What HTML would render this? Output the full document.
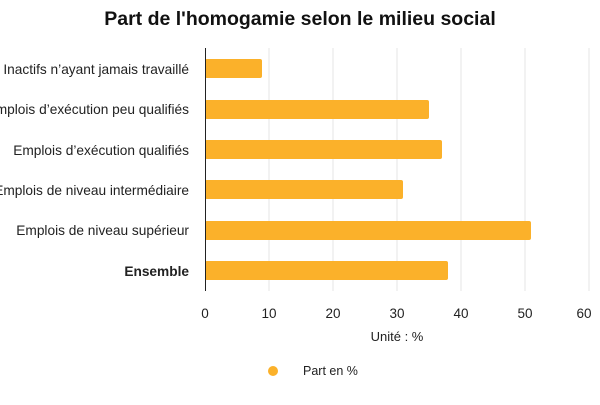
<!DOCTYPE html><html><head><style>body{margin:0;background:#fff;font-family:"Liberation Sans",sans-serif}</style></head><body>
<svg width="600" height="400" xmlns="http://www.w3.org/2000/svg" font-family="Liberation Sans, sans-serif">
<text x="300" y="25" text-anchor="middle" font-size="19.5" font-weight="bold" fill="#111">Part de l'homogamie selon le milieu social</text>
<g stroke="#e6e6e6" stroke-width="1">
<line x1="269" y1="48" x2="269" y2="291"/><line x1="333" y1="48" x2="333" y2="291"/><line x1="397" y1="48" x2="397" y2="291"/><line x1="461" y1="48" x2="461" y2="291"/><line x1="525" y1="48" x2="525" y2="291"/><line x1="589" y1="48" x2="589" y2="291"/>
</g>
<g fill="#FBB12A">
<rect x="205" y="59" width="57" height="19" rx="2"/>
<rect x="205" y="100" width="224" height="19" rx="2"/>
<rect x="205" y="140" width="237" height="19" rx="2"/>
<rect x="205" y="180" width="198" height="19" rx="2"/>
<rect x="205" y="221" width="326" height="19" rx="2"/>
<rect x="205" y="261" width="243" height="19" rx="2"/>
</g>
<line x1="205.5" y1="48" x2="205.5" y2="291" stroke="#222" stroke-width="1"/>
<g font-size="13.7" fill="#222" text-anchor="end">
<text x="189" y="74">Inactifs n’ayant jamais travaillé</text>
<text x="189" y="114">Emplois d’exécution peu qualifiés</text>
<text x="189" y="155">Emplois d’exécution qualifiés</text>
<text x="189" y="195">Emplois de niveau intermédiaire</text>
<text x="189" y="235">Emplois de niveau supérieur</text>
<text x="189" y="276" font-weight="bold">Ensemble</text>
</g>
<g font-size="13.5" fill="#222" text-anchor="middle">
<text x="205" y="318">0</text><text x="269" y="318">10</text><text x="333" y="318">20</text><text x="397" y="318">30</text><text x="461" y="318">40</text><text x="525" y="318">50</text><text x="584" y="318">60</text>
</g>
<text x="397" y="341" font-size="13" fill="#222" text-anchor="middle">Unité : %</text>
<circle cx="273" cy="371" r="5" fill="#FBB12A"/>
<text x="303" y="375" font-size="12.5" fill="#222">Part en %</text>
</svg>
</body></html>
